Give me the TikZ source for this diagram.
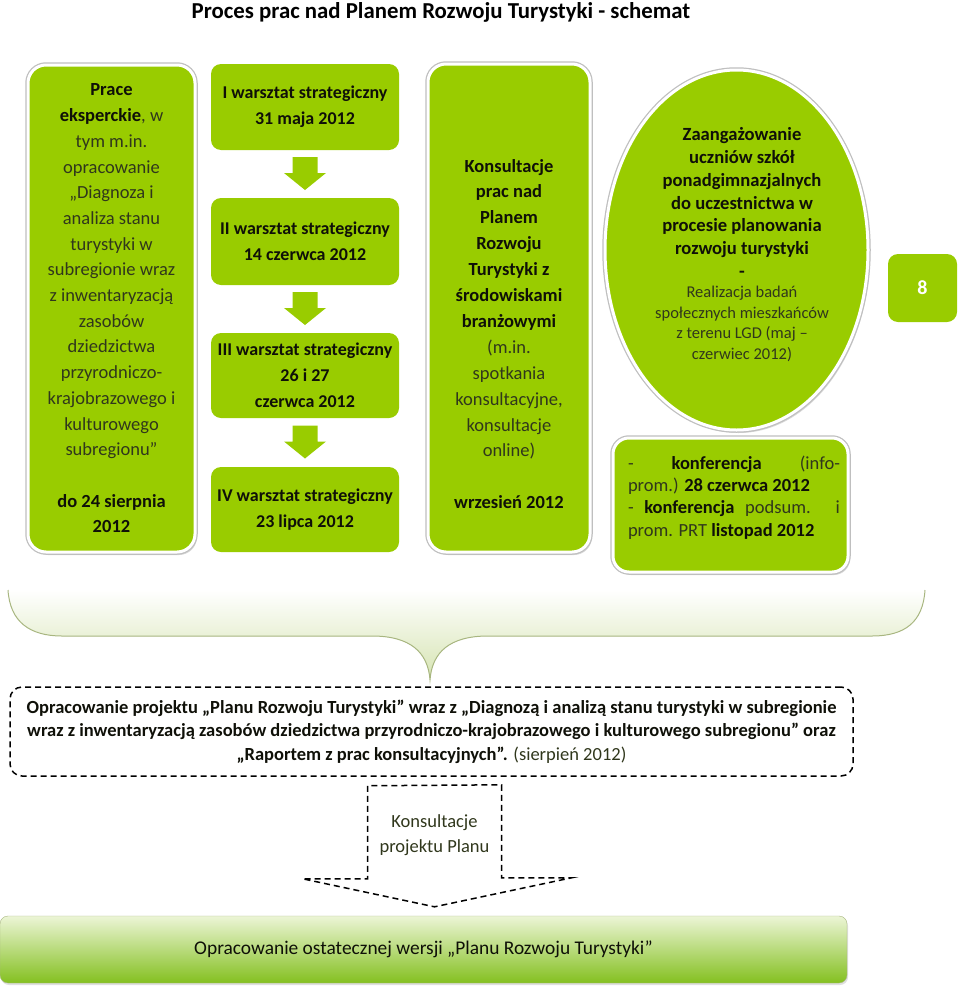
\documentclass[tikz,border=0pt]{standalone}
\usepackage{fontspec}
\setmainfont{Carlito}
\usetikzlibrary{shapes.geometric,shadows,calc}
\definecolor{limeG}{RGB}{153,204,0}
\definecolor{txtsoft}{RGB}{48,55,28}
\definecolor{txtdark}{RGB}{15,16,8}
\definecolor{paleG}{RGB}{214,228,178}
\definecolor{edgeG}{RGB}{168,182,128}
\definecolor{finalTop}{RGB}{236,245,214}
\definecolor{finalMid}{RGB}{198,228,138}
\definecolor{finalBot}{RGB}{132,192,32}
\newcommand{\fs}[2]{\fontsize{#1}{#2}\selectfont}
\newcommand{\kw}[1]{{\bfseries\color{txtdark}#1}}

\begin{document}
\begin{tikzpicture}[x=1pt,y=-1pt,font=\fs{18.5}{25.7},
	blok/.style={fill=limeG,rounded corners=10pt,inner sep=0pt,align=flush center,text=txtsoft},
	ramka/.style={blok,rounded corners=18pt,
		drop shadow={shadow xshift=2pt,shadow yshift=-3pt,opacity=.3},
		preaction={draw=black!25,line width=5.5pt},draw=white,line width=3pt},
	warsztat/.style={blok,minimum width=188pt,minimum height=86pt,
		font=\bfseries\fs{18}{26},text=txtdark},
	kreska/.style={draw=black,line width=1.5pt,dash pattern=on 6pt off 4pt}]
	\useasboundingbox (0,0) rectangle (960,988);
	% tytul
	\node[font=\bfseries\fs{22.8}{26},text=black] (tytul) at (441,12)
	{Proces prac nad Planem Rozwoju Turystyki - schemat};
	% kolumna 1
	\node[ramka,minimum width=167pt,minimum height=487pt] (prace) at (111.5,308.5)
	{\kw{Prace}\\ \kw{eksperckie}, w\\ tym m.in.\\ opracowanie\\ „Diagnoza i\\ analiza stanu\\
		turystyki w\\ subregionie wraz\\ z inwentaryzacją\\ zasobów\\ dziedzictwa\\ przyrodniczo-\\
		krajobrazowego i\\ kulturowego\\ subregionu”\\[25.7pt] \kw{do 24 sierpnia}\\ \kw{2012}};
	% warsztaty
	\node[warsztat] (w1) at (305,107) {I warsztat strategiczny\\ 31 maja 2012};
	\node[warsztat,minimum height=87pt] (w2) at (305,241.5) {II warsztat strategiczny\\ 14 czerwca 2012};
	\node[warsztat,minimum height=85pt] (w3) at (305,375.5) {III warsztat strategiczny\\ 26 i 27\\ czerwca 2012};
	\node[warsztat,minimum height=85pt] (w4) at (305,509.5) {IV warsztat strategiczny\\ 23 lipca 2012};
	\foreach \a/\b in {w1/w2,w2/w3,w3/w4}
	\fill[limeG,shift={($(\a.south)!.5!(\b.north)$)}]
	(-12.5,-17)--(12.5,-17)--(12.5,-1)--(21,-1)--(0,16)--(-21,-1)--(-12.5,-1)--cycle;
	% konsultacje
	\node[ramka,minimum width=162pt,minimum height=488pt] (konsultacje) at (509,308) {};
	\node[align=flush center,text=txtsoft,font=\fs{18.5}{25.9}] (konsTxt) at (509,334)
	{\kw{Konsultacje}\\ \kw{prac nad}\\ \kw{Planem}\\ \kw{Rozwoju}\\ \kw{Turystyki z}\\
		\kw{środowiskami}\\ \kw{branżowymi}\\ (m.in.\\ spotkania\\ konsultacyjne,\\
		konsultacje\\ online)\\[25.9pt] \kw{wrzesień 2012}};
	% uczniowie
	\node[ramka,ellipse,minimum width=263pt,minimum height=360pt] (uczniowie) at (736.5,250) {};
	\node[align=flush center,font=\bfseries\fs{18.6}{22.7},text=txtdark] (uczTxt) at (742,202.5)
	{Zaangażowanie\\ uczniów szkół\\ ponadgimnazjalnych\\ do uczestnictwa w\\
		procesie planowania\\ rozwoju turystyki\\ -};
	\node[align=flush center,font=\fs{16.5}{20.7},text=txtsoft] (badTxt) at (742,324)
	{Realizacja badań\\ społecznych mieszkańców\\ z terenu LGD (maj –\\ czerwiec 2012)};
	\node[blok,minimum width=69pt,minimum height=68pt,text=white,font=\bfseries\fs{20}{24}] (strona) at (922.5,288) {8};
	% konferencje
	\node[ramka,rounded corners=16pt,minimum width=235pt,minimum height=134pt] (konferencje) at (730.5,505) {};
	\node[align=left,text=txtsoft,font=\fs{18.5}{22.3}] (konfTxt) at (734,497.5)
	{\makebox[212pt][s]{- \kw{konferencja} (info-}\\ prom.) \kw{28 czerwca 2012}\\
		\makebox[212pt][s]{- \kw{konferencja} podsum. i}\\ prom. PRT \kw{listopad 2012}};
	% klamra
	\draw[edgeG,line width=1pt,top color=white,bottom color=paleG]
	(8,590) .. controls (10,622) and (30,636) .. (62,636) -- (372,636)
	.. controls (410,636) and (428,652) .. (430,680)
	.. controls (432,652) and (450,636) .. (488,636) -- (872,636)
	.. controls (905,636) and (923,622) .. (925,590);
	% projekt
	\node[kreska,rounded corners=12pt,minimum width=843pt,minimum height=89pt,align=flush center,
	font=\bfseries\fs{18.5}{23.5},text=txtdark] (projekt) at (431.5,731.5)
	{Opracowanie projektu „Planu Rozwoju Turystyki” wraz z „Diagnozą i analizą stanu turystyki w subregionie\\
		wraz z inwentaryzacją zasobów dziedzictwa przyrodniczo-krajobrazowego i kulturowego subregionu” oraz\\
		„Raportem z prac konsultacyjnych”. {\mdseries\color{txtsoft}(sierpień 2012)}};
	% wersja ostateczna
	\node[draw=edgeG,rounded corners=8pt,top color=finalTop,middle color=finalMid,bottom color=finalBot,
	minimum width=847pt,minimum height=67pt,text=txtdark,font=\fs{19.4}{24},
	drop shadow={shadow xshift=1pt,shadow yshift=-2pt,opacity=.25}] (wersja) at (423.5,949.5)
	{Opracowanie ostatecznej wersji „Planu Rozwoju Turystyki”};
	% strzalka
	\path (projekt.south) ++(3,9) coordinate (gora)
	(gora |- wersja.north) ++(0,-9) coordinate (grot);
	\draw[kreska] ($(gora)+(-67,0)$) -- ++(0,93) -- ++(-65,0) -- (grot)
	-- ++(137,-29) -- ++(-70,0) -- ++(0,-93) -- cycle;
	\node[align=flush center,text=txtsoft,font=\fs{18.5}{25}] (konsProj) at (gora |- 0,835.5)
	{Konsultacje\\ projektu Planu};
\end{tikzpicture}
\end{document}
